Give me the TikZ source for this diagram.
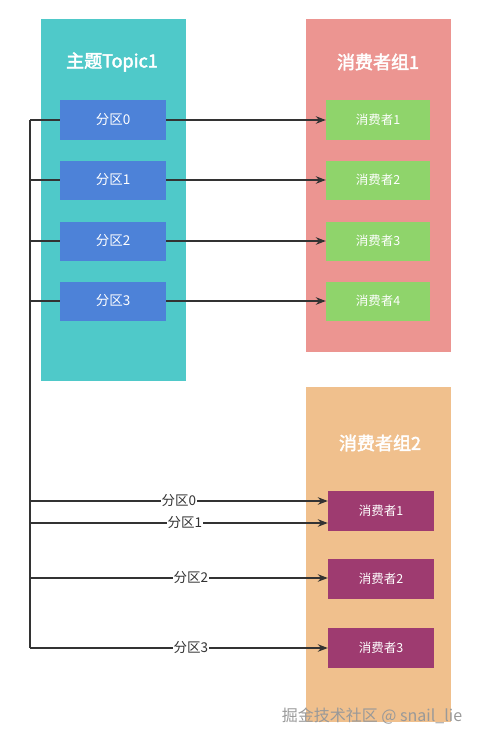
\documentclass[tikz,border=0pt]{standalone}
\usepackage{fontspec}
\setmainfont{Noto Sans CJK SC}[AutoFakeBold=2.5]
\usetikzlibrary{arrows.meta}
\definecolor{topicbg}{HTML}{4FC9C9}
\definecolor{partbg}{HTML}{4D82D8}
\definecolor{grpone}{HTML}{EC9591}
\definecolor{consgreen}{HTML}{8FD46B}
\definecolor{grptwo}{HTML}{F0C08D}
\definecolor{conspurple}{HTML}{9E3B70}
\definecolor{wiregray}{HTML}{333333}

\begin{document}
\begin{tikzpicture}[x=1pt, y=-1pt, >={Stealth[length=10pt,width=7.5pt]},
  panel/.style={inner sep=0pt, minimum width=145pt},
  title/.style={text=white, font=\fontsize{18}{18}\selectfont\bfseries},
  part/.style={fill=partbg, text=white, inner sep=0pt, minimum width=106pt,
    minimum height=39pt, font=\fontsize{13.5}{13.5}\selectfont},
  cons/.style={text=white, inner sep=0pt, minimum height=39pt,
    font=\fontsize{12.5}{12.5}\selectfont},
  wire/.style={draw=wiregray, line width=1.2pt},
  lab/.style={fill=white, text=wiregray, inner sep=1pt,
    font=\fontsize{13.5}{13.5}\selectfont}]
  \useasboundingbox (0,0) rectangle (481,741);
  % background panels
  \node[panel, fill=topicbg, minimum height=362pt] (topic) at (113.5,200) {};
  \node[panel, fill=grpone, minimum height=333pt] (grp1) at (378.5,185.5) {};
  \node[panel, fill=grptwo, minimum height=335pt] (grp2) at (378.5,554.5) {};
  \node[title] (topictitle) at (112,62) {主题Topic1};
  \node[title] (grp1title) at (378,62) {消费者组1};
  \node[title] (grp2title) at (380,443) {消费者组2};
  % partitions and first group
  \foreach \i/\j/\y in {0/1/120,1/2/180,2/3/241,3/4/301} {
    \node[part] (p\i) at (113,\y) {分区\i};
    \node[cons, fill=consgreen, minimum width=104pt] (a\j) at (378,\y) {消费者\j};
  }
  % second group
  \foreach \j/\y in {1/511,2/579,3/648}
    \node[cons, fill=conspurple, minimum width=106pt, minimum height=40pt] (b\j) at (381,\y) {消费者\j};
  % trunk on the left
  \coordinate (top) at (30,120);
  \coordinate (bot) at (30,648);
  \draw[wire] (top) -- (bot);
  \foreach \i/\j in {0/1,1/2,2/3,3/4} {
    \draw[wire] (top |- p\i.west) -- (p\i.west);
    \draw[wire,->] (p\i.east) -- (a\j.west);
  }
  % feeds into the second group
  \foreach \i/\j/\y/\p in {0/1/501/0.5, 1/1/523/0.52, 2/2/578/0.54, 3/3/648/0.54} {
    \coordinate (f\i) at (30,\y);
    \draw[wire,->] (f\i) -- (f\i -| b\j.west) node[lab, pos=\p] (l\i) {分区\i};
  }
  \node[text=gray!80, font=\fontsize{16}{16}\selectfont] (mark) at (372,716) {掘金技术社区 @ snail\_lie};
\end{tikzpicture}
\end{document}
